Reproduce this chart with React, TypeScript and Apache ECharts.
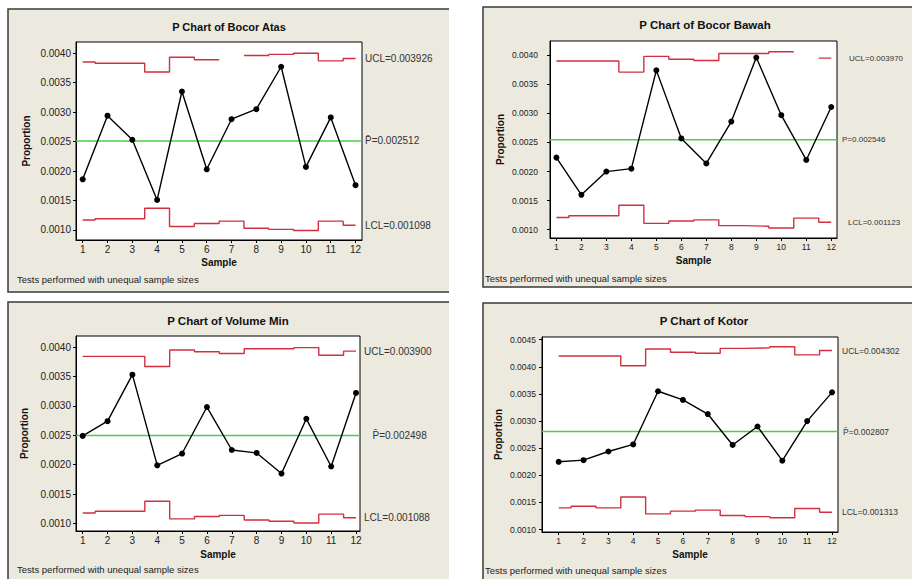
import React, { useEffect, useRef } from "react";
import * as echarts from "echarts";

// ---------- data ----------
const samples = [1, 2, 3, 4, 5, 6, 7, 8, 9, 10, 11, 12];
const yTicksA = [0.001, 0.0015, 0.002, 0.0025, 0.003, 0.0035, 0.004];
const yTicksB = [0.001, 0.0015, 0.002, 0.0025, 0.003, 0.0035, 0.004, 0.0045];

const titles = [
  "P Chart of Bocor Atas",
  "P Chart of Bocor Bawah",
  "P Chart of Volume Min",
  "P Chart of Kotor",
];

const atasP = [0.00186, 0.00294, 0.00253, 0.00151, 0.00335, 0.00203, 0.00288, 0.00305, 0.00377, 0.00207, 0.00291, 0.00176];
const atasUCL = [0.00385, 0.00383, 0.00383, 0.00368, 0.00393, 0.00389, null, 0.00396, 0.00398, 0.0040, 0.00387, 0.00391];
const atasLCL = [0.00117, 0.00119, 0.00119, 0.00137, 0.00106, 0.00111, 0.00115, 0.00103, 0.00101, 0.00099, 0.00115, 0.00108];
const atasCenter = 0.002512;

const bawahP = [0.00224, 0.0016, 0.002, 0.00205, 0.00374, 0.00257, 0.00214, 0.00286, 0.00396, 0.00297, 0.0022, 0.00311];
const bawahUCL = [0.0039, 0.0039, 0.0039, 0.00371, 0.00398, 0.00393, 0.00391, 0.00403, 0.00403, 0.00406, null, 0.00395];
const bawahLCL = [0.00121, 0.00124, 0.00124, 0.00142, 0.00111, 0.00115, 0.00117, 0.00107, 0.00106, 0.00103, 0.0012, 0.00113];
const bawahCenter = 0.002546;

const volumeP = [0.00249, 0.00274, 0.00353, 0.00199, 0.00219, 0.00298, 0.00225, 0.0022, 0.00185, 0.00278, 0.00197, 0.00322];
const volumeUCL = [0.00384, 0.00384, 0.00384, 0.00367, 0.00395, 0.00392, 0.00389, 0.00397, 0.00397, 0.00399, 0.00386, 0.00393];
const volumeLCL = [0.00118, 0.00121, 0.00121, 0.00138, 0.00108, 0.00112, 0.00114, 0.00106, 0.00104, 0.00101, 0.00116, 0.0011];
const volumeCenter = 0.002498;

const kotorP = [0.00225, 0.00228, 0.00244, 0.00257, 0.00355, 0.00339, 0.00313, 0.00256, 0.0029, 0.00227, 0.003, 0.00353];
const kotorUCL = [0.0042, 0.0042, 0.0042, 0.00402, 0.00433, 0.00427, 0.00425, 0.00434, 0.00435, 0.00437, 0.00422, 0.0043];
const kotorLCL = [0.0014, 0.00143, 0.0014, 0.0016, 0.00129, 0.00134, 0.00136, 0.00126, 0.00124, 0.00122, 0.00139, 0.00132];
const kotorCenter = 0.002807;

const uclLabels = ["UCL=0.003926", "UCL=0.003970", "UCL=0.003900", "UCL=0.004302"];
const centerLabels = ["P\u0304=0.002512", "P=0.002546", "P\u0304=0.002498", "P\u0304=0.002807"];
const lclLabels = ["LCL=0.001098", "LCL=0.001123", "LCL=0.001088", "LCL=0.001313"];
const noteText = "Tests performed with unequal sample sizes";

const pValues = [atasP, bawahP, volumeP, kotorP];
const uclValues = [atasUCL, bawahUCL, volumeUCL, kotorUCL];
const lclValues = [atasLCL, bawahLCL, volumeLCL, kotorLCL];
const centers = [atasCenter, bawahCenter, volumeCenter, kotorCenter];
const yTickSets = [yTicksA, yTicksA, yTicksA, yTicksB];

// ---------- layout ----------
const layouts = [
  { grid: { left: 76, top: 42, width: 286, height: 198 }, x: [0.73, 12.26], y: [0.00083, 0.00419], title: [229, 27], titleFont: 11, note: [17, 279], uclD: 3, lclD: 3, pD: 3, yGap: 45, xGap: 17, tickFont: 10, yMargin: 5, labelFont: 10 },
  { grid: { left: 550, top: 41, width: 287, height: 197 }, x: [0.744, 12.23], y: [0.000858, 0.004245], title: [705, 24.5], titleFont: 11.5, note: [485, 278], uclD: 12, lclD: 11, pD: 5, yGap: 45, xGap: 17, tickFont: 8.5, yMargin: 12, labelFont: 8 },
  { grid: { left: 76, top: 336, width: 284, height: 195 }, x: [0.73, 12.16], y: [0.000874, 0.004187], title: [228, 320.7], titleFont: 11.5, note: [17, 569.5], uclD: 4, lclD: 4, pD: 12.5, yGap: 47, xGap: 18, tickFont: 10, yMargin: 5, labelFont: 10 },
  { grid: { left: 542, top: 337, width: 296, height: 195 }, x: [0.33, 12.24], y: [0.000956, 0.00455], title: [704, 321], titleFont: 11.5, note: [485, 570], uclD: 4, lclD: 4, pD: 5, yGap: 39, xGap: 17, tickFont: 8.5, yMargin: 6, labelFont: 8.5 },
];

const panelRects = [
  { rect: [8, 9, 441, 283], border: [[449, 9], [8, 9], [8, 292], [449, 292]] },
  { rect: [483, 7, 440, 280], border: [[920, 7], [483, 7], [483, 287], [920, 287]] },
  { rect: [8, 302, 441, 290], border: [[449, 302], [8, 302], [8, 590]] },
  { rect: [483, 303, 440, 290], border: [[920, 303], [483, 303], [483, 590]] },
];

const FONT = "'Liberation Sans', Arial, sans-serif";
const RED = "#D0303F";
const GREEN = "#48D048";
const BEIGE = "#ECE9DF";

function steps(vals: (number | null)[]) {
  const out: any[] = [];
  const first = samples[0];
  const last = samples[samples.length - 1];
  vals.forEach((v, i) => {
    const x = samples[i];
    if (v == null) {
      out.push([x, "-"]);
      return;
    }
    out.push([Math.max(x - 0.5, first), v]);
    out.push([Math.min(x + 0.5, last), v]);
  });
  return out;
}

function buildOption() {
  const grids: any[] = [];
  const xAxes: any[] = [];
  const yAxes: any[] = [];
  const series: any[] = [];
  const graphics: any[] = [];

  panelRects.forEach((p) => {
    graphics.push({
      type: "rect",
      z: -10,
      shape: { x: p.rect[0], y: p.rect[1], width: p.rect[2], height: p.rect[3] },
      style: { fill: BEIGE },
      silent: true,
    });
    graphics.push({
      type: "polyline",
      z: -9,
      shape: { points: p.border },
      style: { stroke: "#3a3a3a", lineWidth: 1.5, fill: null },
      silent: true,
    });
  });

  layouts.forEach((L, i) => {
    grids.push({
      ...L.grid,
      show: true,
      backgroundColor: "#ffffff",
      borderColor: "#000",
      borderWidth: 1,
      containLabel: false,
    });
    xAxes.push({
      gridIndex: i,
      type: "value",
      min: L.x[0],
      max: L.x[1],
      axisLine: { show: true, onZero: false, lineStyle: { color: "#000", width: 1 } },
      axisTick: { show: true, customValues: samples, length: 3, lineStyle: { color: "#000" } },
      axisLabel: { customValues: samples, fontSize: L.tickFont, color: "#222", margin: 4, fontFamily: FONT },
      splitLine: { show: false },
      name: "Sample",
      nameLocation: "middle",
      nameGap: L.xGap,
      nameTextStyle: { fontWeight: "bold", fontSize: 10, color: "#111", fontFamily: FONT },
    });
    yAxes.push({
      gridIndex: i,
      type: "value",
      min: L.y[0],
      max: L.y[1],
      axisLine: { show: true, lineStyle: { color: "#000", width: 1 } },
      axisTick: { show: true, customValues: yTickSets[i], length: 3, lineStyle: { color: "#000" } },
      axisLabel: {
        customValues: yTickSets[i],
        fontSize: L.tickFont,
        color: "#222",
        margin: L.yMargin,
        fontFamily: FONT,
        formatter: (v: number) => v.toFixed(4),
      },
      splitLine: { show: false },
      name: "Proportion",
      nameLocation: "middle",
      nameRotate: 90,
      nameGap: L.yGap,
      nameTextStyle: { fontWeight: "bold", fontSize: 10, color: "#111", fontFamily: FONT },
    });

    const labelStyle = { fontSize: L.labelFont, color: "#333", fontFamily: FONT };

    // UCL steps
    series.push({
      type: "line",
      xAxisIndex: i,
      yAxisIndex: i,
      data: steps(uclValues[i]),
      showSymbol: false,
      symbol: "none",
      silent: true,
      lineStyle: { color: RED, width: 1.4 },
      z: 2,
    });
    // LCL steps
    series.push({
      type: "line",
      xAxisIndex: i,
      yAxisIndex: i,
      data: steps(lclValues[i]),
      showSymbol: false,
      symbol: "none",
      silent: true,
      lineStyle: { color: RED, width: 1.4 },
      z: 2,
    });
    // labels for UCL / LCL: invisible lines ending at the plot's right edge
    const lastU = uclValues[i][uclValues[i].length - 1];
    const lastL = lclValues[i][lclValues[i].length - 1];
    series.push({
      type: "line",
      xAxisIndex: i,
      yAxisIndex: i,
      data: [[samples[samples.length - 1], lastU], [L.x[1], lastU]],
      showSymbol: false,
      symbol: "none",
      silent: true,
      clip: false,
      lineStyle: { opacity: 0 },
      endLabel: { show: true, formatter: uclLabels[i], distance: L.uclD, ...labelStyle },
    });
    series.push({
      type: "line",
      xAxisIndex: i,
      yAxisIndex: i,
      data: [[samples[samples.length - 1], lastL], [L.x[1], lastL]],
      showSymbol: false,
      symbol: "none",
      silent: true,
      clip: false,
      lineStyle: { opacity: 0 },
      endLabel: { show: true, formatter: lclLabels[i], distance: L.lclD, ...labelStyle },
    });
    // centre line
    series.push({
      type: "line",
      xAxisIndex: i,
      yAxisIndex: i,
      data: [[L.x[0], centers[i]], [L.x[1], centers[i]]],
      showSymbol: false,
      symbol: "none",
      silent: true,
      lineStyle: { color: GREEN, width: 1.5 },
      endLabel: { show: true, formatter: centerLabels[i], distance: L.pD, ...labelStyle },
      z: 3,
    });
    // proportions
    series.push({
      type: "line",
      xAxisIndex: i,
      yAxisIndex: i,
      data: samples.map((s, j) => [s, pValues[i][j]]),
      symbol: "circle",
      symbolSize: 6,
      showSymbol: true,
      silent: true,
      itemStyle: { color: "#000" },
      lineStyle: { color: "#000", width: 1.4 },
      z: 4,
    });

    graphics.push({
      type: "text",
      x: L.title[0],
      y: L.title[1],
      silent: true,
      style: {
        text: titles[i],
        fontSize: L.titleFont,
        fontWeight: "bold",
        fontFamily: FONT,
        fill: "#111",
        align: "center",
        verticalAlign: "middle",
      },
    });
    graphics.push({
      type: "text",
      x: L.note[0],
      y: L.note[1],
      silent: true,
      style: {
        text: noteText,
        fontSize: 9.5,
        fontFamily: FONT,
        fill: "#222",
        align: "left",
        verticalAlign: "middle",
      },
    });
  });

  return {
    animation: false,
    backgroundColor: "#ffffff",
    grid: grids,
    xAxis: xAxes,
    yAxis: yAxes,
    series,
    graphic: { elements: graphics },
  };
}

export default function App() {
  const ref = useRef<HTMLDivElement>(null);
  useEffect(() => {
    if (!ref.current) return;
    const chart = echarts.init(ref.current, null, { renderer: "svg" });
    chart.setOption(buildOption() as any);
    return () => chart.dispose();
  }, []);
  return (
    <div
      ref={ref}
      style={{ position: "fixed", left: 0, top: 0, width: 912, height: 579, background: "#fff" }}
    />
  );
}
